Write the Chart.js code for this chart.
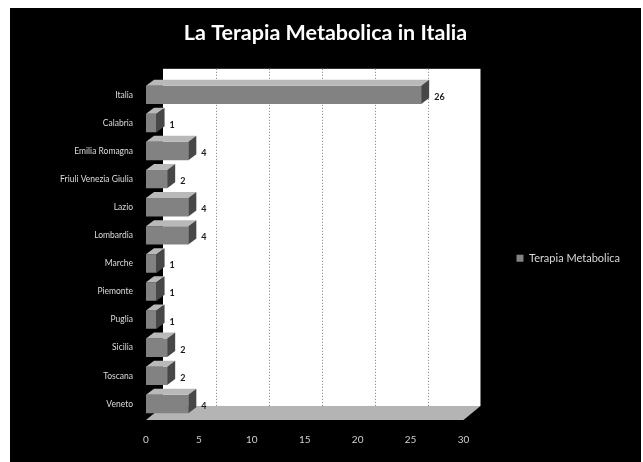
<!DOCTYPE html>
<html><head><meta charset="utf-8">
<script src="https://cdn.jsdelivr.net/npm/chart.js@4/dist/chart.umd.min.js"></script>
<style>
html,body{margin:0;padding:0;background:#fff;overflow:hidden;}
#wrap{position:absolute;left:10px;top:8px;width:631px;height:454px;background:#000;}
</style></head><body>
<div id="wrap"><canvas id="c"></canvas></div>
<script>
// Patients on metabolic therapy, by region
const regions = ['Italia','Calabria','Emilia Romagna','Friuli Venezia Giulia','Lazio','Lombardia','Marche','Piemonte','Puglia','Sicilia','Toscana','Veneto'];
const patients = [26, 1, 4, 2, 4, 4, 1, 1, 1, 2, 2, 4];
const xTicks = [0, 5, 10, 15, 20, 25, 30];
const seriesName = 'Terapia Metabolica';
const chartTitle = 'La Terapia Metabolica in Italia';

// depth of the back wall and of each bar (3-D look)
const WALL = {dx: 17, dy: -12};
const BAR = {dx: 8, dy: -6};

const pseudo3d = {
  id: 'pseudo3d',
  beforeDatasetsDraw(chart) {
    const {ctx, chartArea: a, scales: {x}} = chart;
    ctx.save();
    // back wall
    ctx.fillStyle = '#ffffff';
    ctx.fillRect(a.left + WALL.dx, a.top + WALL.dy, a.right - a.left, a.bottom - a.top);
    // grid lines on the back wall
    ctx.strokeStyle = '#7a7a7a';
    ctx.lineWidth = 1;
    ctx.setLineDash([1, 2]);
    xTicks.forEach(v => {
      if (v === 0 || v === xTicks[xTicks.length - 1]) return;
      const px = Math.round(x.getPixelForValue(v) + WALL.dx) + 0.5;
      ctx.beginPath();
      ctx.moveTo(px, a.top + WALL.dy);
      ctx.lineTo(px, a.bottom + WALL.dy);
      ctx.stroke();
    });
    ctx.setLineDash([]);
    // floor
    ctx.fillStyle = '#b4b4b4';
    ctx.beginPath();
    ctx.moveTo(a.left, a.bottom + 2);
    ctx.lineTo(a.right, a.bottom + 2);
    ctx.lineTo(a.right + WALL.dx, a.bottom + WALL.dy);
    ctx.lineTo(a.left + WALL.dx, a.bottom + WALL.dy);
    ctx.closePath();
    ctx.fill();
    ctx.restore();
  },
  afterDatasetsDraw(chart) {
    const {ctx} = chart;
    const meta = chart.getDatasetMeta(0);
    ctx.save();
    meta.data.forEach((bar, i) => {
      const {x, y, base, height} = bar.getProps(['x', 'y', 'base', 'height'], true);
      const top = y - height / 2, bot = y + height / 2;
      // top face
      ctx.fillStyle = '#b9b9b9';
      ctx.beginPath();
      ctx.moveTo(base, top);
      ctx.lineTo(x, top);
      ctx.lineTo(x + BAR.dx, top + BAR.dy);
      ctx.lineTo(base + BAR.dx, top + BAR.dy);
      ctx.closePath();
      ctx.fill();
      // end face
      ctx.fillStyle = '#474747';
      ctx.beginPath();
      ctx.moveTo(x, top);
      ctx.lineTo(x + BAR.dx, top + BAR.dy);
      ctx.lineTo(x + BAR.dx, bot + BAR.dy);
      ctx.lineTo(x, bot);
      ctx.closePath();
      ctx.fill();
      // value label
      ctx.fillStyle = '#1a1a1a';
      ctx.font = 'bold 9px Lato, sans-serif';
      ctx.textBaseline = 'middle';
      ctx.textAlign = 'left';
      ctx.fillText(String(patients[i]), x + BAR.dx + 5, y + 2);
    });
    ctx.restore();
  }
};

new Chart(document.getElementById('c'), {
  type: 'bar',
  data: {
    labels: regions,
    datasets: [{
      label: seriesName,
      data: patients,
      backgroundColor: '#828282',
      borderWidth: 0,
      categoryPercentage: 0.8,
      barPercentage: 0.82
    }]
  },
  options: {
    indexAxis: 'y',
    responsive: true,
    maintainAspectRatio: false,
    animation: false,
    layout: {padding: {left: 11, right: 11, top: 0, bottom: 0}},
    scales: {
      x: {
        min: 0, max: 30,
        grid: {display: false},
        border: {display: false},
        ticks: {stepSize: 5, color: '#cfcfcf', padding: 8, font: {family: 'Lato, sans-serif', size: 10}},
        afterFit: axis => { axis.height = 44; }
      },
      y: {
        grid: {display: false},
        border: {display: false},
        ticks: {color: '#dcdcdc', padding: 5, font: {family: 'Lato, sans-serif', size: 8.5}},
        afterFit: axis => { axis.width = 125; }
      }
    },
    plugins: {
      title: {
        display: true,
        text: chartTitle,
        color: '#ffffff',
        font: {family: 'Lato, sans-serif', size: 21.5, weight: 'bold'},
        padding: {top: 12, bottom: 35}
      },
      legend: {
        position: 'right',
        maxWidth: 178,
        title: {display: true, text: ' ', font: {size: 12}, padding: {top: 16, bottom: 16}},
        labels: {
          color: '#d8d8d8',
          boxWidth: 7,
          boxHeight: 7,
          padding: 53,
          font: {family: 'Lato, sans-serif', size: 11}
        }
      },
      tooltip: {enabled: false}
    }
  },
  plugins: [pseudo3d]
});
</script>
</body></html>
